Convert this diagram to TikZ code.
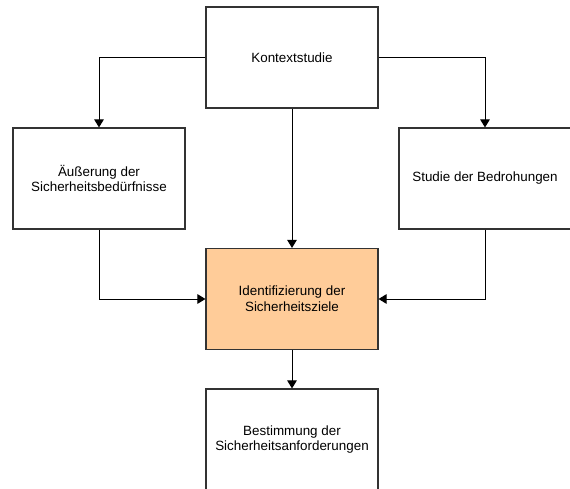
\documentclass[tikz,border=0pt]{standalone}
\usepackage{fontspec}
\setmainfont{Liberation Sans}
\usetikzlibrary{arrows.meta,positioning}
\definecolor{zielorange}{HTML}{FFCC99}
\definecolor{linegray}{HTML}{333333}

\begin{document}
\begin{tikzpicture}[x=1pt,y=-1pt,>={Triangle[length=8pt,width=9.5pt]},
    stepbox/.style={rectangle,draw=linegray,line width=1.1pt,minimum width=172pt,
      minimum height=101pt,align=center,font=\fontsize{13.4}{15.7}\selectfont,inner sep=0pt},
    flow/.style={->,draw=black,line width=1pt}]
  \useasboundingbox (0,0) rectangle (570,489);
  \clip (0,0) rectangle (570,489);
  \node[stepbox] (kontext) at (292,57.5) {Kontextstudie};
  \node[stepbox] (beduerf) at (99,178.5) {Äußerung der\\Sicherheitsbedürfnisse};
  \node[stepbox] (bedroh)  at (485,178.5) {Studie der Bedrohungen};
  \node[stepbox,fill=zielorange] (ziele) at (292,299) {Identifizierung der\\Sicherheitsziele};
  \node[stepbox] (anford) at (292,439.5) {Bestimmung der\\Sicherheitsanforderungen};
  \draw[flow] (kontext.west) -| (beduerf.north);
  \draw[flow] (kontext.east) -| (bedroh.north);
  \draw[flow] (kontext.south) -- (ziele.north);
  \draw[flow] (beduerf.south) |- (ziele.west);
  \draw[flow] (bedroh.south) |- (ziele.east);
  \draw[flow] (ziele.south) -- (anford.north);
\end{tikzpicture}
\end{document}
